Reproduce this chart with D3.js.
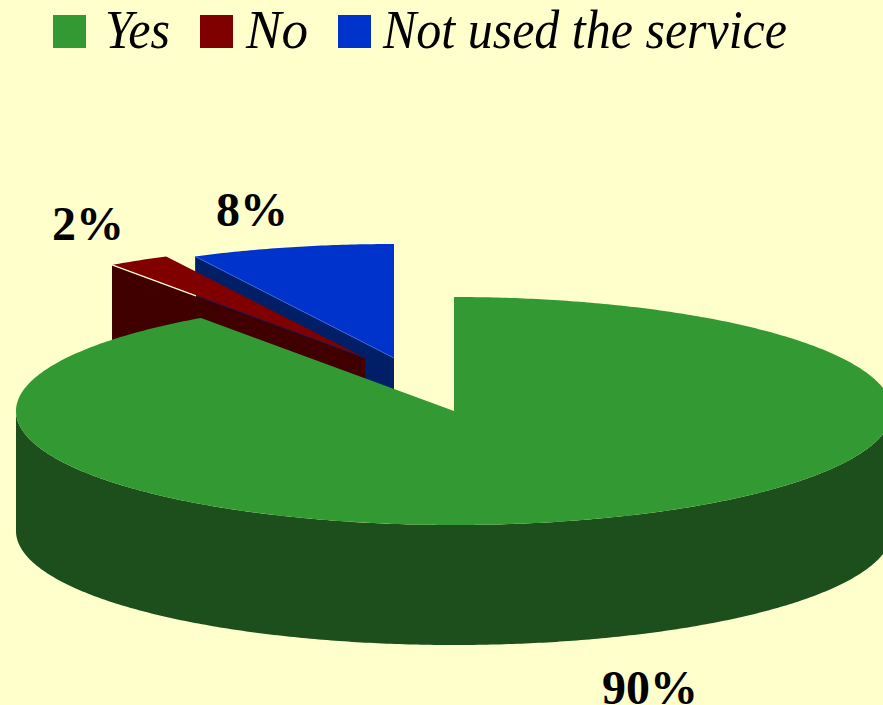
<!DOCTYPE html>
<html>
<head>
<meta charset="utf-8">
<script src="https://cdn.jsdelivr.net/npm/d3@7"></script>
<style>
  html, body { margin: 0; padding: 0; background: #ffffcc; overflow: hidden; }
  svg { display: block; }
  text { font-family: "Liberation Serif", serif; fill: #000; }
</style>
</head>
<body>
<script>
const categories = ['Yes', 'No', 'Not used the service']
const values = [90.2, 2.3, 7.5]   // the labels round these
const topColors = ['#339933', '#800000', '#0033cc']
const wallColors = ['#1c4f1c', '#400000', '#001f66']

const width = 883
const height = 705

// tilted pie: flat ellipse plus a wall underneath
const cx = 454
const cy = 411
const rx = 438
const ry = 114
const depth = 120
const explode = [[0, 0], [-89, -53], [-60, -53]]

const legendX = [53, 200, 338]
const legendTextX = [105, 246, 383]
const legendTextW = [65, 62, 404]
const labelPos = [[602, 704], [52, 240], [216, 226]]

const svg = d3.select('body').append('svg')
  .attr('width', width)
  .attr('height', height)

svg.append('rect')
  .attr('width', width)
  .attr('height', height)
  .attr('fill', '#ffffcc')

const x = d3.scaleLinear().domain([-1, 1]).range([cx - rx, cx + rx])
const y = d3.scaleLinear().domain([-1, 1]).range([cy + ry, cy - ry])

const slices = d3.pie().sort(null)(values)
const line = d3.line()

function rim(a0, a1) {
  const n = Math.max(2, Math.ceil((a1 - a0) / 0.01))
  return d3.range(n + 1).map(i => {
    const a = a0 + (a1 - a0) * i / n
    return [x(Math.sin(a)), y(Math.cos(a))]
  })
}

// back to front, the exploded slices sit behind the big one
const order = [2, 1, 0]
order.forEach(i => {
  const s = slices[i]
  const [dx, dy] = explode[i]
  const g = svg.append('g').attr('transform', `translate(${dx},${dy})`)
  const apex = [x(0), y(0)]
  const outer = rim(s.startAngle, s.endAngle)

  // cut face on the left side of the slice
  if (i > 0) {
    const edge = outer[0]
    g.append('path')
      .attr('d', line([apex, edge, [edge[0], edge[1] + depth], [apex[0], apex[1] + depth]]) + 'Z')
      .attr('fill', wallColors[i])
  }

  // outer wall, only the part facing us
  if (s.startAngle < Math.PI * 1.5) {
    const front = rim(Math.max(s.startAngle, Math.PI / 2), Math.min(s.endAngle, Math.PI * 1.5))
    const lower = front.map(p => [p[0], p[1] + depth]).reverse()
    g.append('path')
      .attr('d', line(front.concat(lower)) + 'Z')
      .attr('fill', wallColors[i])
  }

  g.append('path')
    .attr('d', line([apex].concat(outer)) + 'Z')
    .attr('fill', topColors[i])
})

// thin lines along the exploded edges
const blueRim = rim(slices[2].startAngle, slices[2].endAngle)[0]
svg.append('path')
  .attr('d', line([[x(0) + explode[2][0], y(0) + explode[2][1]], [blueRim[0] + explode[2][0], blueRim[1] + explode[2][1]]]))
  .attr('stroke', '#3f66d9')
  .attr('stroke-width', 0.8)
  .attr('fill', 'none')

const redRim = rim(slices[1].startAngle, slices[1].endAngle)[0]
const redA = [redRim[0] + explode[1][0], redRim[1] + explode[1][1]]
const redB = [x(0) + explode[1][0], y(0) + explode[1][1]]
const cut = 0.332
const redMid = [redA[0] + (redB[0] - redA[0]) * cut, redA[1] + (redB[1] - redA[1]) * cut]
svg.append('path')
  .attr('d', line([redA, redMid]))
  .attr('stroke', '#ffffcc')
  .attr('stroke-width', 1.2)
  .attr('fill', 'none')
svg.append('path')
  .attr('d', line([redMid, redB]))
  .attr('stroke', '#001f66')
  .attr('stroke-width', 0.8)
  .attr('fill', 'none')

// legend
categories.forEach((c, i) => {
  svg.append('rect')
    .attr('x', legendX[i])
    .attr('y', 15)
    .attr('width', 33)
    .attr('height', 33)
    .attr('fill', topColors[i])
  svg.append('text')
    .attr('x', legendTextX[i])
    .attr('y', 48)
    .attr('font-size', 54)
    .attr('font-style', 'italic')
    .attr('textLength', legendTextW[i])
    .attr('lengthAdjust', 'spacingAndGlyphs')
    .text(c)
})

// percent labels
values.forEach((v, i) => {
  svg.append('text')
    .attr('x', labelPos[i][0])
    .attr('y', labelPos[i][1])
    .attr('font-size', 48)
    .attr('font-weight', 'bold')
    .text(d3.format('.0f')(v) + '%')
})
</script>
</body>
</html>
